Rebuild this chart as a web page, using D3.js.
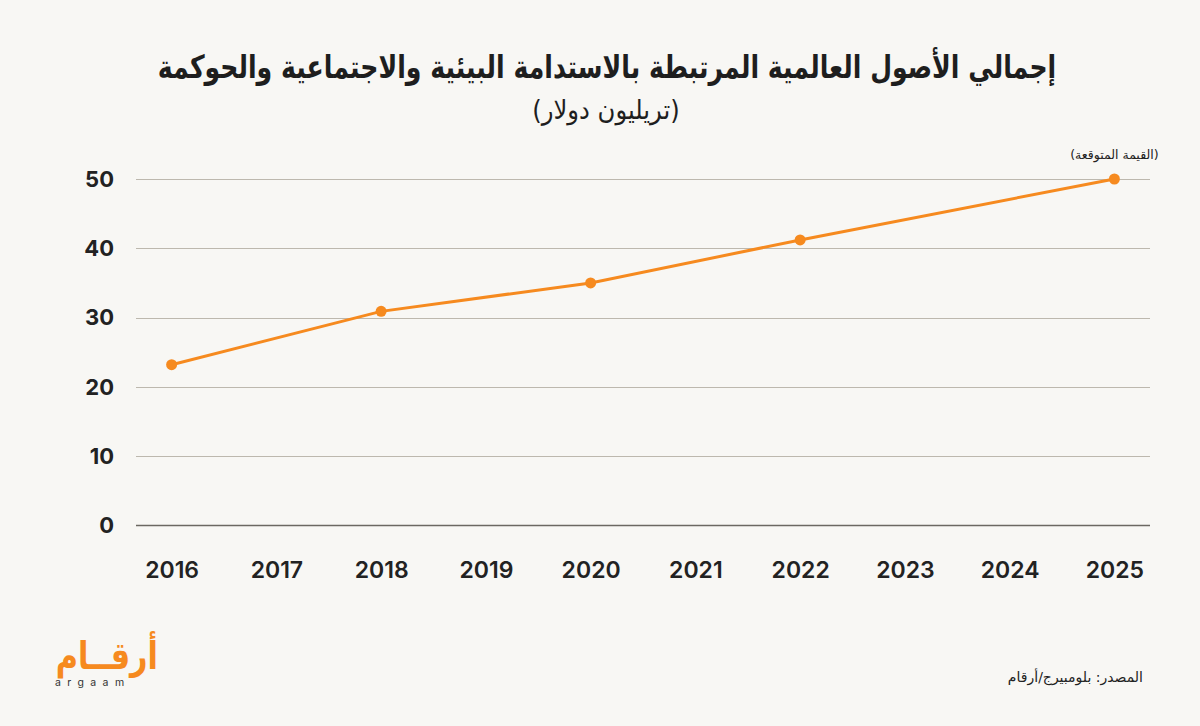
<!DOCTYPE html>
<html lang="ar">
<head>
<meta charset="utf-8">
<script src="https://cdn.jsdelivr.net/npm/d3@7"></script>
<style>
  html, body { margin: 0; padding: 0; background: #f8f7f4; }
  svg { display: block; }
</style>
</head>
<body>
<div id="chart"></div>
<script>
const width = 1200;
const height = 726;

// data
const years = ["2016", "2017", "2018", "2019", "2020", "2021", "2022", "2023", "2024", "2025"];
const pointYears = ["2016", "2018", "2020", "2022", "2025"];
const assets = [23.2, 30.9, 35.0, 41.2, 50];
const yTicks = [0, 10, 20, 30, 40, 50];

const title = "إجمالي الأصول العالمية المرتبطة بالاستدامة البيئية والاجتماعية والحوكمة";
const subtitle = "(تريليون دولار)";
const forecastNote = "(القيمة المتوقعة)";
const source = "المصدر: بلومبيرج/أرقام";

const orange = "#f68a1f";
const arabicFont = "'DejaVu Sans', sans-serif";
const numFont = "Inter, 'Noto Sans', sans-serif";

const margin = { left: 136, right: 50, top: 179, bottom: 201 };

const svg = d3.select("#chart")
  .append("svg")
  .attr("width", width)
  .attr("height", height);

svg.append("rect")
  .attr("width", width)
  .attr("height", height)
  .attr("fill", "#f8f7f4");

const x = d3.scalePoint()
  .domain(years)
  .range([margin.left, width - margin.right])
  .padding(0.34);

const y = d3.scaleLinear()
  .domain([0, 50])
  .range([height - margin.bottom + 0.5, margin.top]);

// gridlines
svg.append("g")
  .selectAll("line")
  .data(yTicks.filter(d => d > 0))
  .enter().append("line")
  .attr("x1", margin.left)
  .attr("x2", width - margin.right)
  .attr("y1", d => Math.round(y(d)) + 0.5)
  .attr("y2", d => Math.round(y(d)) + 0.5)
  .attr("stroke", "#bdb8ae")
  .attr("stroke-width", 1);

// baseline
svg.append("line")
  .attr("x1", margin.left)
  .attr("x2", width - margin.right)
  .attr("y1", y(0))
  .attr("y2", y(0))
  .attr("stroke", "#6b6862")
  .attr("stroke-width", 1.6);

// y tick labels
svg.append("g")
  .selectAll("text")
  .data(yTicks)
  .enter().append("text")
  .attr("x", 114)
  .attr("y", d => y(d))
  .attr("dy", "0.35em")
  .attr("text-anchor", "end")
  .attr("font-family", numFont)
  .attr("font-size", 22)
  .attr("font-weight", 700)
  .attr("fill", "#222")
  .text(d => d);

// x axis labels
const xAxis = d3.axisBottom(x).tickSize(0).tickPadding(0);
const gx = svg.append("g")
  .attr("transform", `translate(0, 578)`)
  .call(xAxis);
gx.select(".domain").remove();
gx.selectAll("text")
  .attr("dy", 0)
  .attr("font-family", numFont)
  .attr("font-size", 23)
  .attr("font-weight", 600)
  .attr("fill", "#222");

// line
const pts = pointYears.map((yr, i) => ({ year: yr, value: assets[i] }));

const line = d3.line()
  .x(d => x(d.year))
  .y(d => y(d.value));

svg.append("path")
  .datum(pts)
  .attr("d", line)
  .attr("fill", "none")
  .attr("stroke", orange)
  .attr("stroke-width", 3);

svg.append("g")
  .selectAll("circle")
  .data(pts)
  .enter().append("circle")
  .attr("cx", d => x(d.year))
  .attr("cy", d => y(d.value))
  .attr("r", 5.5)
  .attr("fill", orange);

// forecast note above the last point
svg.append("text")
  .attr("x", x("2025"))
  .attr("y", 159)
  .attr("text-anchor", "middle")
  .attr("font-family", arabicFont)
  .attr("font-size", 12.5)
  .attr("fill", "#222")
  .text(forecastNote);

// titles (the original face is condensed, so squeeze the bold title a little)
svg.append("g")
  .attr("transform", "translate(607, 78) scale(0.787, 1)")
  .append("text")
  .attr("text-anchor", "middle")
  .attr("font-family", arabicFont)
  .attr("font-size", 32)
  .attr("font-weight", 700)
  .attr("fill", "#1e1e1e")
  .text(title);

svg.append("g")
  .attr("transform", "translate(606, 119) scale(0.9, 1)")
  .append("text")
  .attr("text-anchor", "middle")
  .attr("font-family", arabicFont)
  .attr("font-size", 27)
  .attr("fill", "#1e1e1e")
  .text(subtitle);

// source
svg.append("text")
  .attr("x", 1143)
  .attr("y", 682)
  .attr("text-anchor", "end")
  .attr("font-family", arabicFont)
  .attr("font-size", 14)
  .attr("fill", "#222")
  .text(source);

// logo
svg.append("g")
  .attr("transform", "translate(158, 669) scale(0.8, 1)")
  .append("text")
  .attr("text-anchor", "end")
  .attr("font-family", arabicFont)
  .attr("font-size", 38)
  .attr("font-weight", 700)
  .attr("fill", orange)
  .text("أرقــام");
svg.append("text")
  .attr("x", 55)
  .attr("y", 686)
  .attr("font-family", numFont)
  .attr("font-size", 10.5)
  .attr("letter-spacing", 6.4)
  .attr("fill", "#333")
  .text("argaam");
</script>
</body>
</html>
